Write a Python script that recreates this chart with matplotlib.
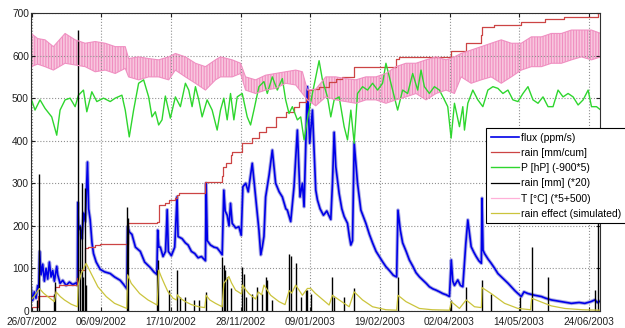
import numpy as np
import matplotlib
matplotlib.use('Agg')
import matplotlib.pyplot as plt
import matplotlib.dates as mdates
from matplotlib.lines import Line2D

plt.rcParams['font.family'] = ['Liberation Sans', 'DejaVu Sans']
plt.rcParams['hatch.linewidth'] = 0.8

# days counted from 26/07/2002
start = mdates.date2num(np.datetime64('2002-07-26'))

# flux (ppm/s)
flux_day = [0, 1, 2, 3, 4, 4.6, 5.2, 6, 7, 8, 9, 10, 11, 12, 13, 14, 15.4, 16, 17.4, 19,
            21, 23, 25, 27, 27.8, 28, 28.5, 29.5, 30.5, 31.5, 32.5, 33.8, 34.5, 35.4, 36.5, 37.4, 39, 41.4, 44, 47.4,
            50, 53.4, 55.5, 57.4, 57.8, 59, 60.4, 62.5, 65.4, 68, 71.4, 73.5, 75.3, 75.8, 76.5, 77.4, 79, 80.5, 81.5, 82.2,
            84, 86, 87.4, 88, 90.4, 92.4, 94, 96, 98, 100, 102, 104.4, 104.8, 105.5, 107.4, 109.5, 111.4, 113, 114.4, 115.4,
            116.2, 117.4, 118.5, 119.4, 120.4, 122.5, 124.4, 125.8, 126.8, 128.5, 130, 132.4, 134.4, 136.4, 137.5, 138.4,
            139.4, 140.4, 142.5, 144.4, 146.4, 148.5, 150.4, 152.5, 153.4, 155.4, 157.4, 159.4, 161, 162.4, 163.4, 164.5,
            165.4, 166.8, 168.4, 170.4, 171.4, 173, 175, 177, 179.4, 180.4, 181.4, 182.4, 184.4, 186, 187.4, 189.4, 190.5,
            191.4, 192.4, 193.4, 195.4, 197.4, 200.4, 202.5, 204.4, 206.5, 208.4, 210.5, 212.4, 214.5, 216.8, 218.8, 219.6,
            221, 222.4, 224.5, 226.4, 228.5, 230.4, 232.5, 234.4, 236.5, 238.4, 240.5, 242.4, 244.5, 246.4, 248.5, 250.4,
            251.5, 252.4, 253.4, 255.4, 257, 258.4, 260.2, 261.4, 263.4, 265, 266.4, 268, 269.5, 269.9, 270.5, 271.4, 273.5,
            275.4, 277.5, 279.4, 281.5, 283.4, 285.5, 287.4, 289.5, 291.4, 293.4, 295, 297.4, 301.4, 305.4, 308, 311.4,
            317.4, 323.4, 328, 331.4, 335, 337.4, 339, 341]
flux_val = [55, 25, 45, 30, 60, 50, 140, 85, 110, 70, 100, 75, 115, 80, 95, 70, 105, 85, 65, 72,
            60, 68, 62, 66, 60, 255, 190, 200, 170, 230, 210, 350, 240, 215, 160, 135, 115, 98, 92, 88,
            80, 72, 62, 52, 198, 185, 180, 150, 140, 115, 102, 92, 86, 190, 150, 150, 128, 140, 238, 140,
            130, 150, 268, 175, 170, 160, 155, 140, 135, 125, 128, 118, 300, 165, 155, 150, 148, 140, 132, 284,
            235, 225, 200, 253, 206, 195, 198, 178, 292, 300, 280, 347, 268, 190, 132, 150,
            175, 268, 320, 378, 300, 280, 268, 240, 237, 210, 292, 425, 268, 300, 245, 400,
            527, 394, 472, 284, 261, 240, 225, 235, 215, 300, 420, 339, 276, 240, 222, 206, 175,
            155, 165, 395, 300, 237, 206, 180, 160, 140, 128, 115, 104, 95, 84, 80, 237,
            190, 160, 140, 120, 105, 90, 80, 73, 65, 57, 52, 49, 45, 41, 38, 34,
            120, 70, 60, 73, 60, 57, 159, 214, 151, 138, 128, 118, 112, 265, 143, 135, 122,
            112, 100, 88, 80, 73, 65, 57, 48, 41, 34, 45, 41, 37, 34, 30, 26,
            22, 18, 20, 18, 22, 26, 20, 24]

# cumulative rain (mm)
cum_day = [0, 4, 14.4, 17, 27.8, 28.3, 32.4, 34, 38, 41.4, 57.8, 75.4, 76.4, 80, 82.4, 86.4, 87.4, 88.4,
           104.4, 114.4, 115, 116.4, 119.4, 120.4, 126.4, 132.4, 136.4, 140.4, 146.4, 152.4, 157.4, 160.4,
           164.4, 166, 168.4, 172.4, 178.4, 182.4, 186, 193.4, 218.4, 220, 251.4, 260.4, 269.4, 269.9,
           277, 293.4, 307.4, 319, 339.4, 341]
cum_val = [10, 35, 57, 61, 77, 96, 147, 151, 155, 157, 207, 210, 249, 254, 261, 265, 272, 278,
           302, 316, 339, 347, 366, 374, 394, 406, 421, 433, 456, 468, 480, 492,
           499, 519, 522, 527, 539, 546, 550, 574, 593, 597, 611, 629, 648, 668,
           672, 680, 685, 691, 699, 699]

# pressure (hPa -900)*5
p_day = [0, 2.4, 5.4, 8.4, 12.4, 15.4, 17.4, 20.4, 23.4, 26.4, 28.4, 31.4, 33.4, 36.4, 39.4, 43.4,
         47.4, 50.4, 54.4, 56.4, 58.8, 61.4, 64.4, 67.4, 70.4, 72.4, 74.4, 76.4, 78.4, 80.4, 83.4, 86.4,
         89.4, 92.4, 94.4, 96.4, 98.4, 100.4, 102.4, 105.4, 108.4, 111.4, 113.4, 115.4, 117.4, 119.4,
         121.4, 123.4, 126.4, 129.4, 131.4, 133.4, 136.4, 139.4, 141.4, 144.4, 147.4, 150.4, 152.4,
         154.4, 156.4, 159.4, 161.4, 163.4, 165.4, 168.4, 170.4, 172.4, 174.4, 177.4, 179.4, 181.4,
         184.4, 187.4, 189.4, 191.4, 193.4, 195.4, 198.4, 201.4, 204.4, 207.4, 210.4, 212.4, 214.4,
         216.4, 219.4, 222.4, 225.4, 228.4, 231.4, 233.4, 235.4, 238.4, 241.4, 244.4, 247.4, 249.4,
         251.4, 253.4, 256.4, 258.4, 259.4, 261.4, 264.4, 267.4, 270.4, 273.4, 276.4, 279.4, 282.4,
         285.4, 288.4, 291.4, 294.4, 297.4, 300.4, 303.4, 306.4, 309.4, 312.4, 315.4, 318.4, 321.4,
         324.4, 327.4, 330.4, 333.4, 335.4, 338.4, 341]
p_val = [500, 472, 496, 476, 456, 413, 472, 496, 500, 480, 507, 519, 468, 515, 492, 500,
         492, 500, 507, 472, 409, 472, 535, 543, 503, 456, 468, 437, 449, 505, 453, 503,
         480, 535, 519, 480, 527, 496, 456, 496, 472, 425, 472, 500, 449, 511,
         449, 503, 511, 456, 437, 472, 527, 539, 511, 550, 519, 546, 496,
         464, 480, 449, 456, 402, 449, 511, 550, 588, 543, 503, 456, 496,
         503, 433, 402, 472, 394, 511, 527, 519, 535, 519, 535, 582, 550,
         519, 472, 519, 511, 558, 519, 566, 527, 511, 527, 519, 496, 480,
         406, 488, 433, 480, 425, 488, 519, 496, 480, 519, 527, 523, 511,
         519, 496, 492, 511, 527, 496, 488, 503, 480, 480, 519, 503, 511,
         503, 484, 496, 519, 480, 480, 472]

# temperature (*5+500), daily low / high envelope
t_day = [0, 4, 8.4, 13.4, 20.4, 26.4, 32.4, 38.4, 44.4, 50.4, 56.4, 58.4, 64.4, 70.4, 76.4, 82.4,
         86.4, 92.4, 98.4, 104.4, 110.4, 113.4, 120.4, 125.4, 128.4, 134.4, 140.4, 146.4, 152.4, 158.4,
         162.4, 165.4, 170.4, 176.4, 182.4, 188.4, 194.4, 200.4, 206.4, 212.4, 218.4, 224.4, 230.4,
         236.4, 242.4, 248.4, 253.4, 257.4, 263.4, 269.4, 275.4, 281.4, 287.4, 293.4, 299.4, 305.4,
         311.4, 317.4, 323.4, 329.4, 335.4, 341]
t_lo = [574, 580, 574, 566, 582, 578, 574, 562, 566, 558, 570, 550, 543, 550, 550, 543,
        566, 550, 535, 519, 543, 550, 550, 558, 519, 511, 519, 523, 535, 531,
        511, 496, 482, 503, 496, 492, 488, 496, 496, 488, 496, 503, 511,
        496, 511, 519, 511, 550, 535, 543, 550, 535, 550, 566, 574, 574,
        582, 582, 590, 597, 590, 597]
t_hi = [652, 640, 637, 621, 652, 637, 629, 633, 629, 621, 621, 593, 597, 593, 590, 597,
        605, 597, 582, 574, 590, 597, 590, 582, 550, 543, 554, 558, 562, 566,
        562, 519, 521, 550, 550, 546, 543, 550, 550, 558, 574, 582, 582,
        590, 597, 590, 597, 605, 613, 621, 629, 637, 629, 629, 644, 644,
        652, 652, 660, 660, 660, 652]

# daily rain (mm*20)
rain_day = [3.4, 4.8, 13.5, 14.4, 28, 29.4, 30.6, 31.3, 32.3, 33, 57.5, 58.2, 75.5, 76.2, 82.4, 87.4,
            89.4, 92.4, 97.4, 100.4, 104.5, 114.4, 115.4, 116, 117.4, 119.4, 126.4, 127.4, 128.4,
            132.4, 135.4, 138.4, 140.4, 141.4, 144.4, 154.4, 155.4, 158.4, 161.4, 164.4, 165.4,
            167.4, 180.4, 181.4, 187.4, 193.4, 219.4, 251.4, 260.4, 269.8, 275.4, 292.4, 299.6,
            309.4, 337.4, 339.4]
rain_val = [26, 323, 40, 69, 660, 200, 300, 81, 290, 60, 245, 218, 96, 120, 50, 96,
            34, 34, 26, 26, 45, 128, 108, 96, 81, 53, 104, 88, 34,
            41, 57, 41, 81, 73, 26, 135, 130, 112, 34, 49, 49,
            41, 81, 34, 34, 55, 81, 26, 57, 73, 41, 34, 150,
            80, 49, 300]

# simulated rain effect
eff_day = [0, 2, 5, 7.5, 10, 14, 15, 17.5, 20, 24, 27.8, 28.2, 30, 33, 36, 40, 45, 50, 57.3, 57.8,
           60, 65, 70, 75.5, 76.4, 78, 80, 82, 85, 87, 87.6, 90, 92.4, 96, 100.4, 104, 104.8, 107,
           110.4, 114.4, 115.4, 118.4, 120, 122.4, 126, 126.6, 128.5, 130.4, 134.4, 136, 138, 139.4,
           143.4, 148.4, 152, 154.5, 156, 158.4, 162.4, 165.4, 167.4, 170, 172.4, 178.4, 180.4, 184.4,
           190.4, 193.4, 198.4, 204.4, 212.4, 218.8, 219.6, 224.4, 232.4, 240, 250.4, 251.5, 256.4,
           260.4, 265.4, 269.5, 269.9, 275.4, 283.4, 291.4, 299, 299.6, 307.4, 311.4, 319.4, 330, 339, 341]
eff_val = [26, 35, 53, 42, 34, 22, 45, 34, 26, 16, 10, 60, 88, 112, 88, 57, 34, 18, 6, 85,
           65, 41, 26, 14, 96, 80, 62, 45, 30, 26, 38, 28, 22, 15, 10, 8, 37, 26,
           18, 10, 65, 81, 66, 49, 40, 61, 50, 41, 28, 45, 38, 61,
           37, 22, 15, 48, 42, 61, 37, 53, 53, 42, 34, 14, 37, 26,
           10, 45, 26, 10, 3, 2, 37, 22, 6, 3, 2, 22, 6,
           26, 10, 8, 55, 41, 18, 6, 3, 30, 18, 12, 6, 3, 2, 2]

# x ticks: 9 evenly spaced dates
tick_day0 = 0.5
tick_step = 41.66

fig = plt.figure(figsize=(6.25, 3.28), dpi=100)
ax = fig.add_axes([0.0496, 0.0518, 0.9104, 0.9085])

def dx(days):
    return start + np.array(days)

ax.plot(dx(flux_day), flux_val, color='#8c8cd8', lw=2.6, alpha=0.7)
l_flux, = ax.plot(dx(flux_day), flux_val, color='#0000e8', lw=1.2)
l_cum, = ax.step(dx(cum_day), cum_val, where='post', color='#cc4444', lw=0.9)
l_p, = ax.plot(dx(p_day), p_val, color='#2ed62e', lw=1.0)
ax.vlines(dx(rain_day), 0, rain_val, color='black', lw=1.0)
ax.fill_between(dx(t_day), t_lo, t_hi, facecolor='#f8c6de', edgecolor='#f08ec0',
                hatch='||||||', lw=0)
ax.plot(dx(t_day), t_lo, color='#f090c2', lw=0.8)
ax.plot(dx(t_day), t_hi, color='#f090c2', lw=0.8)
l_eff, = ax.plot(dx(eff_day), eff_val, color='#cbc43c', lw=0.9)

ax.set_xlim(start, start + 340.5)
ax.set_ylim(0, 700)
ax.set_yticks(np.arange(0, 701, 100))
ax.set_xticks(start + tick_day0 + np.arange(9) * tick_step)
ax.xaxis.set_major_formatter(mdates.DateFormatter('%d/%m/%Y'))
ax.tick_params(direction='in', length=3, top=True, right=True, labelsize=7.3,
               colors='#202020', pad=1.5)
ax.tick_params(axis='x', pad=4.5)
ax.grid(True, linestyle=':', color='#909090', lw=0.8)
for s in ax.spines.values():
    s.set_color('#303030')
    s.set_linewidth(0.8)

handles = [l_flux, l_cum, l_p,
           Line2D([], [], color='black', lw=0.9),
           Line2D([], [], color='#ffb0d8', lw=0.9),
           l_eff]
labels = ['flux (ppm/s)', 'rain [mm/cum]', 'P [hP] (-900*5)', 'rain [mm] (*20)',
          'T [\u00b0C] (*5+500)', 'rain effect (simulated)']
leg = ax.legend(handles, labels, loc='upper left', bbox_to_anchor=(0.7776, 0.6098),
                bbox_transform=fig.transFigure, fontsize=7.5, frameon=True, fancybox=False,
                framealpha=1, edgecolor='black', borderaxespad=0, borderpad=0.45,
                handlelength=2.7, handletextpad=0.25, labelspacing=0.5)
leg.get_frame().set_linewidth(0.8)

fig.savefig('out.png', dpi=100)
